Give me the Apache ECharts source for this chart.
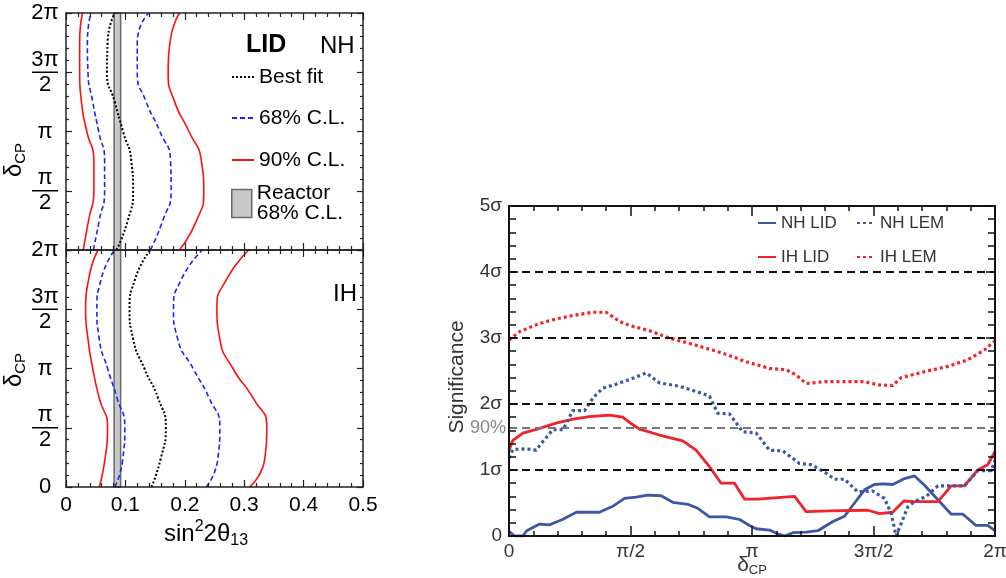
<!DOCTYPE html>
<html>
<head>
<meta charset="utf-8">
<script src="https://cdn.jsdelivr.net/npm/echarts@6/dist/echarts.min.js"></script>
<style>
html,body{margin:0;padding:0;background:#fff;}
#chart{width:1006px;height:578px;}
</style>
</head>
<body>
<div id="chart"></div>
<script>
// ---- Allowed regions in (sin²2θ13, δCP) ----
// δCP nodes in units of π
const deltaNodes = [0, 0.25, 0.5, 0.75, 1, 1.25, 1.5, 1.75, 2];
// Normal hierarchy: sin²2θ13 at each δ node
const nh90Left  = [0.029, 0.038, 0.047, 0.047, 0.035, 0.026, 0.023, 0.023, 0.028];
const nh68Left  = [0.046, 0.056, 0.065, 0.065, 0.055, 0.045, 0.037, 0.036, 0.042];
const nhBestFit = [0.085, 0.104, 0.113, 0.110, 0.096, 0.082, 0.069, 0.070, 0.082];
const nh68Right = [0.142, 0.163, 0.177, 0.176, 0.158, 0.135, 0.120, 0.120, 0.139];
const nh90Right = [0.191, 0.220, 0.232, 0.228, 0.207, 0.183, 0.172, 0.175, 0.191];
// Inverted hierarchy
const ih90Left  = [0.056, 0.066, 0.070, 0.056, 0.045, 0.037, 0.033, 0.038, 0.054];
const ih68Left  = [0.082, 0.096, 0.099, 0.086, 0.070, 0.056, 0.052, 0.059, 0.082];
const ihBestFit = [0.144, 0.160, 0.168, 0.155, 0.132, 0.113, 0.107, 0.116, 0.142];
const ih68Right = [0.236, 0.256, 0.259, 0.241, 0.214, 0.188, 0.181, 0.194, 0.230];
const ih90Right = [0.309, 0.335, 0.338, 0.315, 0.281, 0.259, 0.254, 0.270, 0.308];
// Reactor 68% C.L. band on sin²2θ13
const reactorBand = [0.081, 0.092];

// ---- Hierarchy rejection significance vs δCP (δ in units of π, σ) ----
const nhLid = [[0,0.07],[0.023,0],[0.057,0],[0.073,0.08],[0.126,0.18],[0.167,0.17],[0.22,0.25],[0.277,0.36],[0.372,0.36],[0.427,0.45],[0.475,0.57],[0.523,0.59],[0.571,0.62],[0.626,0.61],[0.674,0.51],[0.736,0.48],[0.777,0.42],[0.825,0.29],[0.894,0.29],[0.949,0.25],[0.99,0.16],[1.017,0.11],[1.072,0.09],[1.1,0.04],[1.134,0],[1.168,0.05],[1.223,0.06],[1.271,0.08],[1.333,0.22],[1.381,0.30],[1.422,0.50],[1.463,0.70],[1.504,0.78],[1.538,0.79],[1.579,0.78],[1.628,0.87],[1.669,0.91],[1.71,0.77],[1.765,0.55],[1.82,0.33],[1.868,0.33],[1.922,0.16],[1.97,0.16],[2.0,0.08]];
const nhLem = [[0,1.18],[0.016,1.31],[0.071,1.32],[0.112,1.30],[0.132,1.40],[0.18,1.61],[0.222,1.61],[0.263,1.90],[0.311,1.90],[0.345,2.09],[0.386,2.24],[0.441,2.30],[0.496,2.37],[0.565,2.47],[0.619,2.32],[0.70,2.27],[0.77,2.19],[0.825,2.12],[0.859,1.86],[0.907,1.85],[0.962,1.58],[1.017,1.56],[1.072,1.30],[1.127,1.29],[1.195,1.10],[1.244,1.08],[1.298,0.97],[1.34,0.86],[1.381,0.86],[1.435,0.67],[1.497,0.68],[1.545,0.57],[1.573,0.34],[1.593,0.0],[1.614,0.19],[1.641,0.44],[1.669,0.52],[1.717,0.60],[1.765,0.76],[1.874,0.76],[1.929,0.99],[1.984,0.99],[2.0,1.15]];
const ihLid = [[0,1.30],[0.016,1.45],[0.057,1.56],[0.126,1.63],[0.194,1.71],[0.263,1.77],[0.331,1.81],[0.414,1.83],[0.468,1.80],[0.496,1.72],[0.537,1.62],[0.619,1.53],[0.715,1.44],[0.77,1.30],[0.825,1.05],[0.873,0.80],[0.928,0.80],[0.969,0.56],[1.024,0.56],[1.175,0.60],[1.223,0.37],[1.319,0.38],[1.477,0.39],[1.525,0.34],[1.579,0.36],[1.625,0.53],[1.669,0.52],[1.765,0.52],[1.82,0.76],[1.874,0.76],[1.929,1.00],[1.97,1.08],[2.0,1.28]];
const ihLem = [[0,2.97],[0.045,3.10],[0.126,3.22],[0.194,3.29],[0.263,3.34],[0.345,3.39],[0.40,3.39],[0.455,3.25],[0.496,3.19],[0.578,3.11],[0.66,3.00],[0.77,2.89],[0.88,2.77],[0.976,2.64],[1.072,2.54],[1.14,2.52],[1.182,2.44],[1.223,2.31],[1.30,2.34],[1.46,2.34],[1.52,2.29],[1.579,2.28],[1.614,2.40],[1.71,2.49],[1.806,2.57],[1.888,2.67],[1.957,2.82],[2.0,2.96]];
// Reference significance levels
const sigmaLines = [1, 2, 3, 4];
const cl90Sigma = 1.64;

// Tick label text
const piLabels = {0: '0', 0.5: 'π/2', 1: 'π', 1.5: '3π/2', 2: '2π'};
const piFracLabels = {0: '0', 0.5: '{n|π}\n{b| }\n{n|2}', 1: 'π', 1.5: '{n|3π}\n{b| }\n{n|2}', 2: '2π'};

const FONT = 'Liberation Sans, Arial, Helvetica, sans-serif';
const RED = '#ff1010', BLUE = '#1f1fff';
const S_BLUE = '#3b57a6', S_RED = '#f0222a';

function contour(vals) { return deltaNodes.map((d, i) => [vals[i], d]); }

const chart = echarts.init(document.getElementById('chart'), null, {renderer: 'canvas'});

const leftGrid = {left: 66, width: 297, height: 237, outerBoundsMode: 'none', containLabel: false};
const grids = [
  Object.assign({top: 13}, leftGrid),
  Object.assign({top: 250}, leftGrid),
  {left: 509, top: 206, width: 486, height: 330, outerBoundsMode: 'none', containLabel: false}
];

function frameAxis(extra) {
  return Object.assign({
    type: 'value',
    z: 6,
    nameMoveOverlap: false,
    splitLine: {show: false},
    axisLine: {show: true, onZero: false, lineStyle: {color: '#222', width: 1.5}},
    axisTick: {show: true, inside: true, length: 7, lineStyle: {color: '#222', width: 1.2}},
    minorTick: {show: true, splitNumber: 5, length: 4, lineStyle: {color: '#222', width: 1.2}},
    axisLabel: {show: false}
  }, extra);
}

const xLeftBase = {min: 0, max: 0.5, interval: 0.1};
const yLeftBase = {min: 0, max: 2, interval: 0.5};
const yLeftLabel = (hideZero) => ({
  show: true, margin: 21, align: 'center', fontSize: 22, fontFamily: FONT, color: '#000',
  formatter: v => (hideZero && v === 0) ? '' : piFracLabels[v],
  rich: {
    n: {fontSize: 22, lineHeight: 22, fontFamily: FONT, color: '#000'},
    b: {width: 26, height: 1.5, lineHeight: 3, fontSize: 1, backgroundColor: '#000'}
  }
});
const yLeftTicks = {
  axisTick: {show: true, inside: true, length: 6, lineStyle: {color: '#222', width: 1.2}},
  minorTick: {show: true, splitNumber: 5, length: 3, lineStyle: {color: '#222', width: 1.2}}
};
const sigLine = {show: true, onZero: false, lineStyle: {color: '#111', width: 2}};
const sigTickX = {show: true, inside: true, length: 10, lineStyle: {color: '#111', width: 1.5}};
const sigMinorX = {show: true, splitNumber: 5, length: 5, lineStyle: {color: '#111', width: 1.5}};
const sigTickY = {show: true, inside: true, length: 9, lineStyle: {color: '#111', width: 1.5}};
const sigMinorY = {show: true, splitNumber: 5, length: 7, lineStyle: {color: '#111', width: 1.5}};

const xAxes = [
  frameAxis(Object.assign({gridIndex: 0, position: 'bottom'}, xLeftBase)),
  frameAxis(Object.assign({gridIndex: 0, position: 'top'}, xLeftBase)),
  frameAxis(Object.assign({gridIndex: 1, position: 'bottom',
    axisLabel: {show: true, fontSize: 21, fontFamily: FONT, color: '#000', margin: 8},
    name: '{a|sin}{p|2}{a|2θ}{s|13}', nameLocation: 'middle', nameGap: 32,
    nameTextStyle: {padding: [0, 17, 0, 0], rich: {
      a: {fontSize: 24, fontFamily: FONT, color: '#000', lineHeight: 30, verticalAlign: 'middle'},
      p: {fontSize: 16, fontFamily: FONT, color: '#000', lineHeight: 30, verticalAlign: 'top'},
      s: {fontSize: 16, fontFamily: FONT, color: '#000', lineHeight: 30, verticalAlign: 'bottom'}
    }}
  }, xLeftBase)),
  frameAxis(Object.assign({gridIndex: 1, position: 'top'}, xLeftBase)),
  frameAxis({gridIndex: 2, position: 'bottom', min: 0, max: 2, interval: 0.5,
    axisLine: sigLine, axisTick: sigTickX, minorTick: sigMinorX,
    axisLabel: {show: true, fontSize: 19, fontFamily: FONT, color: '#333', margin: 6, formatter: v => piLabels[v]},
    name: '{d|δ}{s|CP}', nameLocation: 'middle', nameGap: 17,
    nameTextStyle: {rich: {
      d: {fontSize: 21, fontFamily: FONT, color: '#333', lineHeight: 24, verticalAlign: 'middle'},
      s: {fontSize: 13, fontFamily: FONT, color: '#333', lineHeight: 24, verticalAlign: 'bottom'}
    }}
  }),
  frameAxis({gridIndex: 2, position: 'top', min: 0, max: 2, interval: 0.5,
    axisLine: sigLine, axisTick: sigTickX, minorTick: sigMinorX})
];

const yAxes = [
  frameAxis(Object.assign({gridIndex: 0, position: 'left', axisLabel: yLeftLabel(true)}, yLeftTicks, yLeftBase)),
  frameAxis(Object.assign({gridIndex: 0, position: 'right'}, yLeftTicks, yLeftBase)),
  frameAxis(Object.assign({gridIndex: 1, position: 'left', axisLabel: yLeftLabel(false)}, yLeftTicks, yLeftBase)),
  frameAxis(Object.assign({gridIndex: 1, position: 'right'}, yLeftTicks, yLeftBase)),
  frameAxis({gridIndex: 2, position: 'left', min: 0, max: 5, interval: 1,
    axisLine: sigLine, axisTick: sigTickY, minorTick: sigMinorY,
    axisLabel: {show: true, fontSize: 19, fontFamily: FONT, color: '#333', margin: 7, formatter: v => v === 0 ? '0' : v + 'σ'},
    name: 'Significance', nameLocation: 'middle', nameGap: 41,
    nameTextStyle: {fontSize: 21, fontFamily: FONT, color: '#333', padding: [0, 12, 0, 0]}
  }),
  frameAxis({gridIndex: 2, position: 'right', min: 0, max: 5, interval: 1,
    axisLine: sigLine, axisTick: sigTickY, minorTick: sigMinorY})
];

function contourSeries(name, vals, axis, style) {
  return {
    name: name, type: 'line', xAxisIndex: axis, yAxisIndex: axis,
    data: contour(vals), smooth: 0.6, symbol: 'none', showSymbol: false,
    itemStyle: {color: style.color},
    lineStyle: style, z: 3, silent: true, animation: false
  };
}
const st90 = {color: RED, width: 1.6, type: 'solid'};
const st68 = {color: BLUE, width: 1.6, type: [5, 3]};
const stBest = {color: '#000', width: 2, type: [2, 2]};

function reactorSeries(axis) {
  return {
    name: 'Reactor 68% C.L.', type: 'line', xAxisIndex: axis, yAxisIndex: axis, data: [],
    symbol: 'none', itemStyle: {color: '#c8c8c8'}, lineStyle: {color: '#777'}, silent: true, animation: false, z: 1,
    markArea: {silent: true, itemStyle: {color: '#c8c8c8', borderColor: '#6a6a6a', borderWidth: 1.5},
      data: [[{xAxis: reactorBand[0]}, {xAxis: reactorBand[1]}]]}
  };
}

function sigSeries(name, data, color, dotted) {
  return {
    name: name, type: 'line', xAxisIndex: 4, yAxisIndex: 4, data: data,
    symbol: 'none', showSymbol: false, animation: false, silent: true, z: 3,
    itemStyle: {color: color},
    lineStyle: {color: color, width: dotted ? 3.2 : 2.8, type: dotted ? [3, 3] : 'solid', cap: 'butt', join: 'round'}
  };
}

const refLines = sigmaLines.map(v => ({yAxis: v}));
refLines.push({yAxis: cl90Sigma, lineStyle: {color: '#777'},
  label: {show: true, position: 'start', formatter: '90%', fontSize: 18, fontFamily: FONT, color: '#888', distance: 3}});

const series = [
  reactorSeries(0), reactorSeries(2),
  contourSeries('90% C.L.', nh90Left, 0, st90),
  contourSeries('68% C.L.', nh68Left, 0, st68),
  contourSeries('Best fit', nhBestFit, 0, stBest),
  contourSeries('68% C.L.', nh68Right, 0, st68),
  contourSeries('90% C.L.', nh90Right, 0, st90),
  contourSeries('90% C.L.', ih90Left, 2, st90),
  contourSeries('68% C.L.', ih68Left, 2, st68),
  contourSeries('Best fit', ihBestFit, 2, stBest),
  contourSeries('68% C.L.', ih68Right, 2, st68),
  contourSeries('90% C.L.', ih90Right, 2, st90),
  Object.assign(sigSeries('NH LID', nhLid, S_BLUE, false), {
    markLine: {silent: true, symbol: 'none', animation: false,
      lineStyle: {color: '#111', width: 2, type: [8, 5]}, label: {show: false}, data: refLines}
  }),
  sigSeries('IH LID', ihLid, S_RED, false),
  sigSeries('NH LEM', nhLem, S_BLUE, true),
  sigSeries('IH LEM', ihLem, S_RED, true)
];

function legendAt(name, left, top, opts) {
  return Object.assign({
    data: [name], left: left, top: top, padding: 0, itemGap: 0, selectedMode: false,
    itemWidth: 22, itemHeight: 14,
    itemStyle: {opacity: 0},
    textStyle: {fontSize: 21, fontFamily: FONT, color: '#000', lineHeight: 22}
  }, opts || {});
}
const sigLegendText = {fontSize: 17, fontFamily: FONT, color: '#333', lineHeight: 20};

const option = {
  animation: false,
  backgroundColor: '#fff',
  grid: grids,
  xAxis: xAxes,
  yAxis: yAxes,
  series: series,
  title: [
    {text: 'LID', left: 246, top: 33, padding: 0, textStyle: {fontSize: 25, fontWeight: 'bold', fontFamily: FONT, color: '#000'}},
    {text: 'NH', left: 320, top: 34, padding: 0, textStyle: {fontSize: 24, fontWeight: 'normal', fontFamily: FONT, color: '#000'}},
    {text: 'IH', left: 333, top: 282, padding: 0, textStyle: {fontSize: 24, fontWeight: 'normal', fontFamily: FONT, color: '#000'}}
  ],
  legend: [
    legendAt('Best fit', 231, 66),
    legendAt('68% C.L.', 231, 107),
    legendAt('90% C.L.', 231, 149),
    legendAt('Reactor 68% C.L.', 231, 183, {
      itemWidth: 20, itemHeight: 28,
      itemStyle: {opacity: 1},
      data: [{name: 'Reactor 68% C.L.', icon: 'rect', itemStyle: {color: '#c8c8c8', borderColor: '#6a6a6a', borderWidth: 1.5, opacity: 1}}],
      formatter: () => 'Reactor\n68% C.L.',
      textStyle: {fontSize: 21, fontFamily: FONT, color: '#000', lineHeight: 20}
    }),
    legendAt('NH LID', 757, 213, {itemWidth: 18, itemHeight: 10, textStyle: sigLegendText}),
    legendAt('IH LID', 757, 247, {itemWidth: 18, itemHeight: 10, textStyle: sigLegendText}),
    legendAt('NH LEM', 856, 213, {itemWidth: 18, itemHeight: 10, textStyle: sigLegendText}),
    legendAt('IH LEM', 856, 247, {itemWidth: 18, itemHeight: 10, textStyle: sigLegendText})
  ],
  graphic: [
    {type: 'text', x: 14, y: 160, rotation: Math.PI / 2, silent: true,
      style: {text: '{d|δ}{s|CP}', align: 'center', verticalAlign: 'middle',
        rich: {d: {fontSize: 24, fontFamily: FONT, fill: '#000', lineHeight: 28, verticalAlign: 'middle'},
               s: {fontSize: 15, fontFamily: FONT, fill: '#000', lineHeight: 28, verticalAlign: 'bottom'}}}},
    {type: 'text', x: 14, y: 370, rotation: Math.PI / 2, silent: true,
      style: {text: '{d|δ}{s|CP}', align: 'center', verticalAlign: 'middle',
        rich: {d: {fontSize: 24, fontFamily: FONT, fill: '#000', lineHeight: 28, verticalAlign: 'middle'},
               s: {fontSize: 15, fontFamily: FONT, fill: '#000', lineHeight: 28, verticalAlign: 'bottom'}}}}
  ]
};

chart.setOption(option);
</script>
</body>
</html>
